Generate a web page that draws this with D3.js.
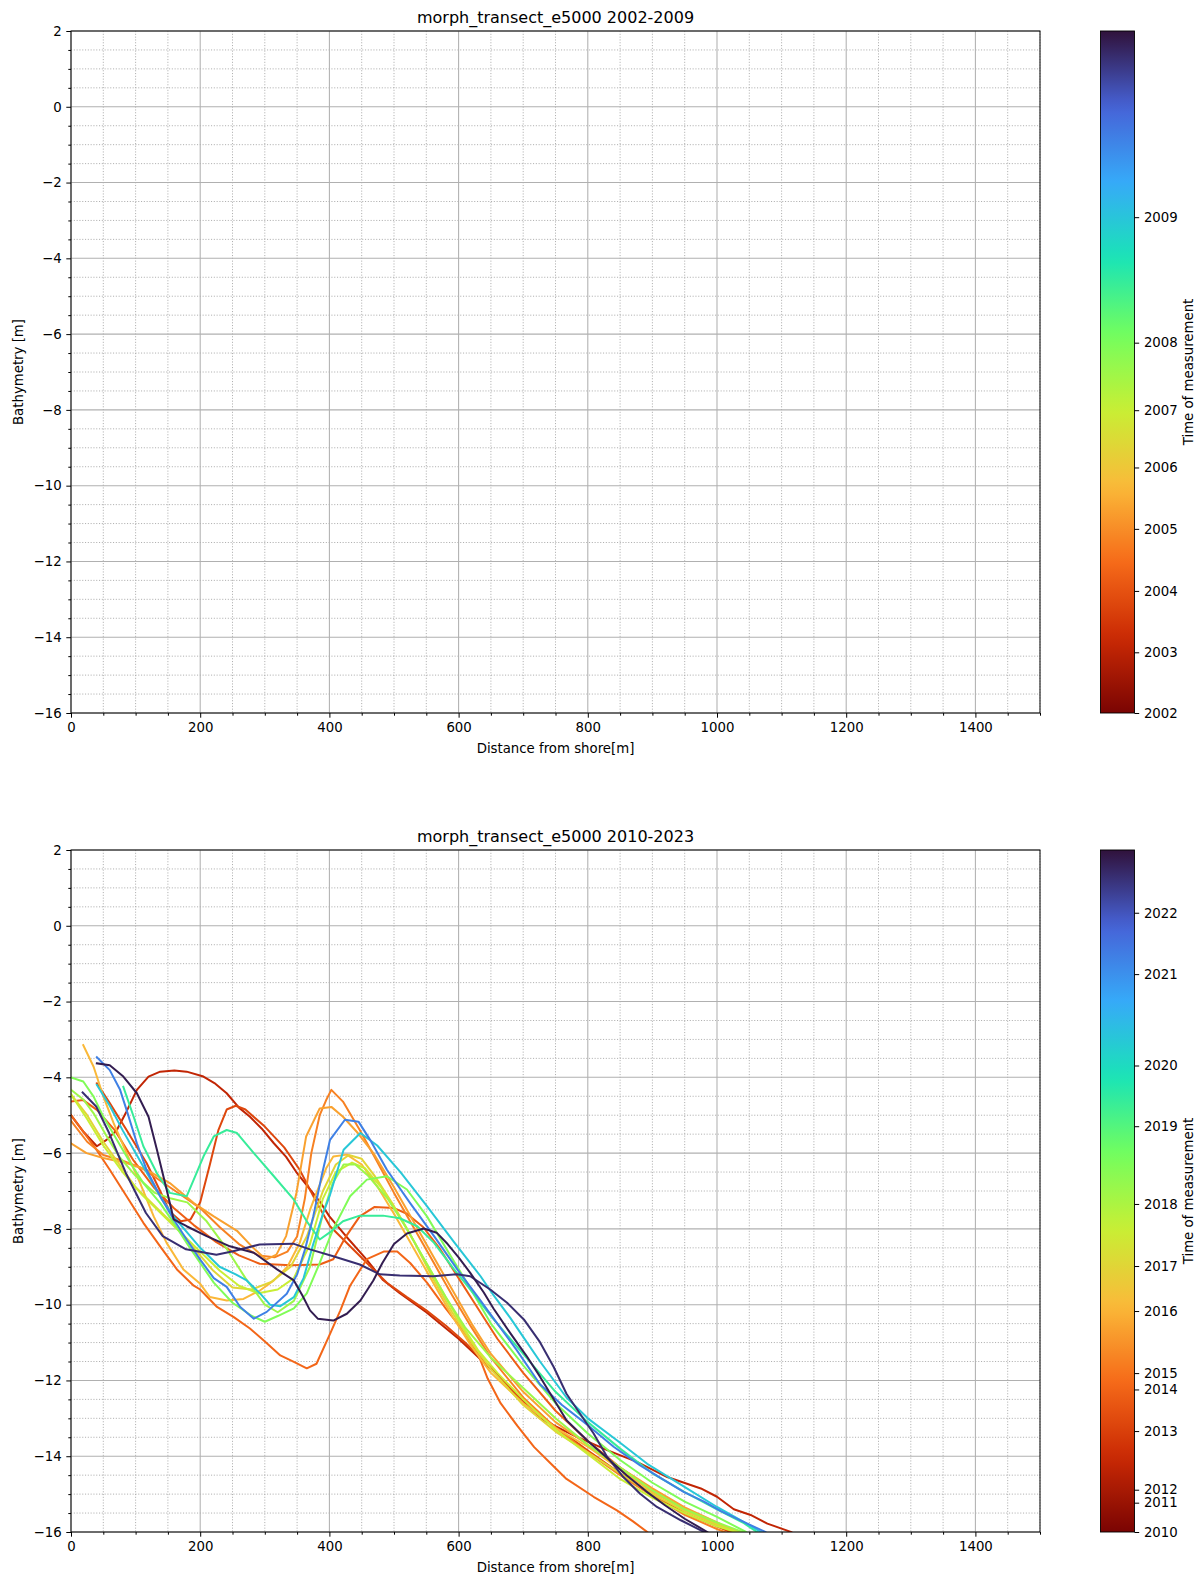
<!DOCTYPE html>
<html>
<head>
<meta charset="utf-8">
<script src="https://cdn.jsdelivr.net/npm/d3@7"></script>
<style>
  body { margin: 0; background: #fff; }
  text { font-family: "DejaVu Sans", sans-serif; fill: #000; }
</style>
</head>
<body>
<script>
// ---- data ----
var xTicks = [0, 200, 400, 600, 800, 1000, 1200, 1400];
var yTicks = [2, 0, -2, -4, -6, -8, -10, -12, -14, -16];
var titles = ['morph_transect_e5000 2002-2009', 'morph_transect_e5000 2010-2023'];

// colorbar ticks (year, position along the bar from bottom 0..1)
var cbarYearsA = [2002, 2003, 2004, 2005, 2006, 2007, 2008, 2009];
var cbarPosA = [0, 0.089, 0.179, 0.27, 0.36, 0.444, 0.543, 0.727];
var cbarEndA = 2010.5;
var cbarYearsB = [2010, 2011, 2012, 2013, 2014, 2015, 2016, 2017, 2018, 2019, 2020, 2021, 2022];
var cbarPosB = [0, 0.043, 0.062, 0.148, 0.209, 0.233, 0.324, 0.39, 0.481, 0.595, 0.684, 0.818, 0.908];
var cbarEndB = 2023.2;

// profiles 2010-2023: [distance from shore (m), bathymetry (m)]
var p2012 = [[0,-5.0],[20,-5.45],[40,-5.82],[55,-5.65],[71,-5.39],[86,-4.9],[102,-4.33],[120,-3.98],[138,-3.85],[160,-3.82],[179,-3.85],[205,-3.98],[222,-4.15],[241,-4.42],[260,-4.8],[277,-5.04],[295,-5.35],[314,-5.74],[333,-6.1],[350,-6.53],[370,-6.96],[386,-7.3],[400,-7.67],[426,-8.2],[457,-8.8],[483,-9.35],[509,-9.7],[550,-10.2],[600,-10.9],[650,-11.7],[700,-12.55],[726,-13.0],[778,-13.45],[830,-13.84],[876,-14.15],[923,-14.55],[975,-14.85],[1000,-15.07],[1026,-15.4],[1052,-15.55],[1078,-15.78],[1115,-16.0]];
var p2013 = [[40,-4.16],[60,-4.68],[86,-5.39],[117,-6.26],[138,-7.0],[153,-7.55],[170,-7.8],[185,-7.75],[200,-7.3],[215,-6.3],[228,-5.4],[241,-4.85],[255,-4.75],[270,-4.85],[300,-5.3],[330,-5.85],[354,-6.44],[380,-7.3],[401,-7.93],[432,-8.46],[458,-8.9],[489,-9.42],[520,-9.8],[550,-10.15],[580,-10.55],[610,-11.0],[640,-11.5],[680,-12.2],[720,-12.85],[760,-13.35],[800,-13.85],[850,-14.45],[900,-15.0],[950,-15.5],[1000,-15.85],[1020,-16.0]];
var p2013b = [[0,-4.64],[19,-4.6],[40,-4.86],[68,-5.4],[97,-6.2],[128,-6.9],[159,-7.45],[190,-7.9],[225,-8.35],[260,-8.7],[292,-8.92],[340,-8.96],[385,-8.94],[406,-8.8],[426,-8.19],[447,-7.67],[470,-7.42],[500,-7.45],[520,-7.6],[545,-7.95],[570,-8.5],[600,-9.3],[630,-10.1],[660,-10.9],[700,-11.8],[750,-12.8],[800,-13.6],[850,-14.3],[900,-14.9],[950,-15.4],[1000,-15.8],[1025,-16.0]];
var p2014 = [[0,-5.0],[35,-5.8],[60,-6.44],[86,-7.14],[112,-7.84],[138,-8.46],[164,-9.07],[190,-9.5],[200,-9.6],[226,-10.06],[252,-10.33],[277,-10.63],[298,-10.94],[324,-11.34],[345,-11.51],[365,-11.68],[380,-11.56],[401,-10.77],[417,-10.15],[432,-9.5],[458,-8.8],[484,-8.6],[505,-8.6],[525,-8.9],[551,-9.42],[580,-10.1],[610,-10.75],[630,-11.3],[645,-11.95],[665,-12.6],[691,-13.2],[717,-13.76],[743,-14.2],[767,-14.6],[809,-15.07],[845,-15.43],[870,-15.72],[892,-16.0]];
var p2015 = [[0,-5.15],[25,-5.7],[50,-6.05],[80,-6.2],[110,-6.4],[140,-6.75],[170,-7.1],[200,-7.45],[230,-7.95],[260,-8.4],[290,-8.7],[315,-8.75],[335,-8.6],[350,-8.2],[362,-7.2],[372,-6.0],[385,-5.0],[395,-4.6],[403,-4.33],[421,-4.64],[447,-5.39],[470,-6.1],[500,-7.05],[530,-7.95],[560,-8.85],[590,-9.75],[620,-10.6],[650,-11.4],[700,-12.45],[750,-13.25],[800,-13.9],[850,-14.5],[900,-15.05],[950,-15.55],[1000,-15.92],[1012,-16.0]];
var p2015b = [[0,-5.74],[24,-6.0],[50,-6.13],[86,-6.26],[117,-6.44],[153,-6.79],[190,-7.32],[221,-7.67],[257,-8.05],[282,-8.5],[302,-8.81],[318,-8.68],[333,-8.19],[349,-7.05],[364,-5.56],[385,-4.82],[403,-4.78],[421,-5.04],[444,-5.47],[468,-6.0],[500,-6.9],[530,-7.8],[560,-8.7],[590,-9.6],[620,-10.5],[650,-11.3],[700,-12.3],[750,-13.1],[800,-13.7],[850,-14.3],[900,-14.85],[950,-15.35],[1000,-15.75],[1030,-16.0]];
var p2016 = [[19,-3.15],[35,-3.72],[50,-4.5],[66,-5.21],[86,-6.0],[107,-6.79],[128,-7.67],[148,-8.37],[174,-9.07],[200,-9.45],[215,-9.8],[241,-9.89],[267,-9.85],[293,-9.62],[314,-9.36],[335,-9.0],[354,-8.37],[370,-7.5],[380,-7.05],[395,-6.4],[406,-6.09],[427,-6.04],[450,-6.3],[475,-6.9],[500,-7.6],[530,-8.5],[560,-9.4],[590,-10.3],[620,-11.1],[650,-11.8],[700,-12.6],[750,-13.25],[800,-13.75],[850,-14.35],[900,-14.95],[950,-15.4],[1000,-15.8],[1035,-16.0]];
var p2017 = [[0,-4.45],[25,-5.0],[50,-5.7],[75,-6.3],[100,-6.9],[130,-7.4],[160,-7.9],[190,-8.5],[220,-9.1],[250,-9.55],[280,-9.6],[310,-9.4],[340,-9.0],[365,-8.2],[390,-7.0],[410,-6.3],[430,-6.05],[450,-6.15],[470,-6.6],[500,-7.4],[530,-8.3],[560,-9.3],[590,-10.2],[620,-11.0],[650,-11.7],[700,-12.65],[750,-13.35],[800,-13.9],[850,-14.45],[900,-15.0],[950,-15.45],[1000,-15.8],[1030,-16.0]];
var p2017b = [[0,-4.45],[25,-5.1],[50,-5.8],[80,-6.5],[110,-7.1],[140,-7.6],[170,-8.1],[200,-8.6],[230,-9.1],[260,-9.5],[290,-9.7],[320,-9.6],[345,-9.3],[370,-8.4],[390,-7.2],[410,-6.5],[435,-6.25],[455,-6.4],[480,-6.9],[510,-7.7],[540,-8.6],[570,-9.5],[600,-10.4],[630,-11.2],[660,-11.8],[700,-12.5],[750,-13.3],[800,-13.95],[850,-14.6],[900,-15.1],[950,-15.5],[1000,-15.85],[1030,-16.0]];
var p2018 = [[0,-4.33],[20,-4.6],[35,-4.95],[55,-5.55],[75,-6.1],[100,-6.6],[130,-7.05],[155,-7.2],[180,-7.3],[210,-7.8],[240,-8.5],[270,-9.3],[300,-10.0],[320,-10.2],[345,-9.9],[370,-9.0],[390,-7.6],[405,-6.8],[422,-6.3],[440,-6.3],[460,-6.6],[490,-7.2],[520,-8.0],[550,-8.9],[580,-9.8],[610,-10.6],[650,-11.4],[700,-12.2],[750,-13.0],[800,-13.7],[850,-14.3],[900,-14.9],[950,-15.4],[1000,-15.75],[1040,-16.0]];
var p2018b = [[0,-4.0],[19,-4.11],[35,-4.51],[50,-5.04],[71,-5.65],[92,-6.26],[112,-6.79],[138,-7.32],[159,-7.84],[179,-8.37],[200,-8.9],[221,-9.42],[250,-9.95],[280,-10.3],[300,-10.45],[320,-10.3],[345,-10.1],[365,-9.7],[385,-8.9],[406,-8.0],[432,-7.14],[458,-6.7],[489,-6.61],[520,-6.96],[551,-7.67],[588,-8.72],[613,-9.42],[650,-10.5],[700,-11.6],[750,-12.6],[800,-13.4],[850,-14.1],[900,-14.7],[950,-15.2],[1000,-15.6],[1045,-16.0]];
var p2019 = [[81,-4.25],[97,-5.04],[112,-5.82],[133,-6.53],[153,-7.05],[179,-7.14],[190,-6.7],[205,-6.09],[221,-5.56],[241,-5.39],[257,-5.47],[283,-6.0],[314,-6.61],[345,-7.23],[365,-7.8],[385,-8.28],[400,-8.1],[421,-7.8],[447,-7.65],[483,-7.65],[509,-7.72],[536,-7.93],[562,-8.37],[593,-9.07],[614,-9.51],[650,-10.3],[700,-11.3],[750,-12.3],[800,-13.1],[850,-13.8],[900,-14.45],[950,-14.95],[1000,-15.4],[1040,-15.75],[1062,-16.0]];
var p2020 = [[40,-4.2],[60,-4.75],[80,-5.4],[100,-6.0],[120,-6.6],[140,-7.2],[160,-7.7],[180,-8.1],[200,-8.5],[230,-9.0],[255,-9.2],[272,-9.36],[293,-9.71],[308,-10.0],[324,-10.04],[345,-9.8],[360,-9.3],[375,-8.4],[390,-7.6],[401,-7.1],[422,-5.91],[448,-5.47],[474,-5.8],[510,-6.5],[551,-7.4],[593,-8.35],[634,-9.25],[654,-9.75],[680,-10.35],[700,-10.85],[726,-11.5],[767,-12.45],[800,-13.0],[845,-13.58],[892,-14.2],[949,-14.8],[1000,-15.34],[1037,-15.69],[1068,-16.0]];
var p2021 = [[40,-3.47],[60,-3.81],[76,-4.33],[86,-4.86],[102,-5.74],[117,-6.44],[138,-7.14],[159,-7.75],[179,-8.28],[200,-8.81],[221,-9.3],[241,-9.53],[262,-10.06],[283,-10.37],[303,-10.19],[334,-9.71],[350,-9.2],[363,-8.5],[375,-7.67],[388,-6.6],[401,-5.65],[424,-5.12],[445,-5.17],[463,-5.65],[489,-6.44],[525,-7.32],[562,-8.19],[598,-9.07],[630,-9.8],[660,-10.5],[690,-11.2],[726,-12.1],[760,-12.65],[800,-13.18],[840,-13.75],[881,-14.24],[915,-14.6],[949,-14.95],[980,-15.2],[1006,-15.45],[1047,-15.78],[1075,-16.0]];
var p2022a = [[18,-4.4],[39,-4.77],[59,-5.47],[85,-6.53],[116,-7.58],[142,-8.19],[178,-8.54],[225,-8.68],[251,-8.59],[292,-8.41],[344,-8.39],[370,-8.54],[406,-8.72],[447,-8.94],[478,-9.2],[509,-9.23],[561,-9.25],[597,-9.2],[618,-9.25],[649,-9.6],[675,-9.95],[701,-10.39],[726,-10.99],[747,-11.64],[767,-12.35],[788,-12.88],[809,-13.4],[830,-14.02],[855,-14.55],[881,-14.99],[907,-15.34],[944,-15.69],[980,-16.0]];
var p2022b = [[40,-3.63],[60,-3.68],[81,-3.98],[102,-4.42],[120,-5.04],[133,-5.91],[148,-6.96],[159,-7.75],[179,-7.93],[210,-8.19],[246,-8.46],[283,-8.63],[319,-9.07],[345,-9.36],[358,-9.75],[370,-10.15],[382,-10.37],[406,-10.42],[427,-10.24],[448,-9.89],[468,-9.36],[482,-8.9],[500,-8.4],[520,-8.12],[546,-7.99],[566,-8.1],[583,-8.4],[600,-8.75],[618,-9.16],[639,-9.68],[654,-10.1],[680,-10.75],[705,-11.35],[726,-11.9],[767,-13.05],[800,-13.6],[830,-14.05],[860,-14.5],[890,-14.92],[920,-15.3],[950,-15.65],[985,-16.0]];

var profileDates = [2012.41, 2013.2, 2013.85, 2014.23, 2015.22, 2015.72, 2016.1, 2017.0, 2017.58, 2018.17, 2018.5, 2019.4, 2020.28, 2021.28, 2022.7, 2023.0];
var profileList = [p2012, p2013, p2013b, p2014, p2015, p2015b, p2016, p2017, p2017b, p2018, p2018b, p2019, p2020, p2021, p2022a, p2022b];

// ---- drawing ----
var W = 1200, H = 1575;
var svg = d3.select('body').append('svg').attr('width', W).attr('height', H);

// turbo colormap stops (dark purple -> dark red)
var turboStops = ['#30123b', '#4662d7', '#36aaf9', '#1ae4b6', '#72fe5e', '#c8ef34', '#faba39', '#f66b19', '#cb2a04', '#7a0403'];
var turbo = d3.piecewise(d3.interpolateRgb, turboStops);

var left = 71, right = 1040, plotH = 682;
var cbLeft = 1100.5, cbW = 34;
var majorTick = 4.7, minorTick = 2.7, tickPad = 4.7;

function drawPanel(top, title, years, pos, yearEnd, dates, profiles, id) {
    var bottom = top + plotH;
    var x = d3.scaleLinear().domain([0, 1500]).range([left, right]);
    var y = d3.scaleLinear().domain([-16, 2]).range([bottom, top]);
    var g = svg.append('g');

    // minor grid (dotted)
    var xMinor = d3.range(0, 1501, 50).filter(function (d) { return d % 200 !== 0; });
    var yMinor = d3.range(-16, 2.01, 0.5).filter(function (d) { return Math.abs(d % 2) > 0.01; });
    var grid = g.append('g').attr('stroke', '#a8a8a8').attr('stroke-width', 0.9).attr('stroke-dasharray', '1.1,1.7');
    grid.selectAll('.vx').data(xMinor).enter().append('line')
        .attr('x1', function (d) { return x(d); }).attr('x2', function (d) { return x(d); })
        .attr('y1', top).attr('y2', bottom);
    grid.selectAll('.hy').data(yMinor).enter().append('line')
        .attr('y1', function (d) { return y(d); }).attr('y2', function (d) { return y(d); })
        .attr('x1', left).attr('x2', right);

    // major grid (solid)
    var major = g.append('g').attr('stroke', '#b0b0b0').attr('stroke-width', 1.05);
    major.selectAll('.vx').data(d3.range(0, 1501, 200)).enter().append('line')
        .attr('x1', function (d) { return x(d); }).attr('x2', function (d) { return x(d); })
        .attr('y1', top).attr('y2', bottom);
    major.selectAll('.hy').data(yTicks).enter().append('line')
        .attr('y1', function (d) { return y(d); }).attr('y2', function (d) { return y(d); })
        .attr('x1', left).attr('x2', right);

    // colour scale: date -> position on colorbar -> turbo
    var datePos = d3.scaleLinear().domain(years.concat([yearEnd])).range(pos.concat([1])).clamp(true);
    var colorOf = function (date) { return turbo(1 - datePos(date)); };

    // profiles
    svg.append('clipPath').attr('id', 'clip' + id).append('rect')
        .attr('x', left).attr('y', top).attr('width', right - left).attr('height', plotH);
    var line = d3.line().x(function (d) { return x(d[0]); }).y(function (d) { return y(d[1]); });
    var lines = g.append('g').attr('clip-path', 'url(#clip' + id + ')');
    profiles.forEach(function (p, i) {
        lines.append('path').datum(p)
            .attr('d', line)
            .attr('fill', 'none')
            .attr('stroke', colorOf(dates[i]))
            .attr('stroke-width', 2)
            .attr('stroke-linejoin', 'round')
            .attr('stroke-linecap', 'square');
    });

    // axes (ticks + labels)
    var fmt = d3.format('d');
    g.append('g').attr('transform', 'translate(0,' + bottom + ')')
        .call(d3.axisBottom(x).tickValues(xTicks).tickFormat(fmt).tickSize(majorTick).tickPadding(tickPad).tickSizeOuter(0));
    g.append('g').attr('transform', 'translate(0,' + bottom + ')')
        .call(d3.axisBottom(x).tickValues(xMinor).tickFormat('').tickSize(minorTick).tickSizeOuter(0));
    g.append('g').attr('transform', 'translate(' + left + ',0)')
        .call(d3.axisLeft(y).tickValues(yTicks).tickFormat(fmt).tickSize(majorTick).tickPadding(tickPad).tickSizeOuter(0));
    g.append('g').attr('transform', 'translate(' + left + ',0)')
        .call(d3.axisLeft(y).tickValues(yMinor).tickFormat('').tickSize(minorTick).tickSizeOuter(0));
    g.selectAll('.domain').remove();
    g.selectAll('.tick line').attr('stroke', '#000').attr('stroke-width', 1);
    g.selectAll('.tick text').attr('font-size', '13.3px').attr('font-family', '"DejaVu Sans", sans-serif').attr('fill', '#000');

    // spines
    g.append('rect').attr('x', left).attr('y', top).attr('width', right - left).attr('height', plotH)
        .attr('fill', 'none').attr('stroke', '#000').attr('stroke-width', 1);

    // titles and labels
    g.append('text').attr('x', (left + right) / 2).attr('y', top - 8)
        .attr('text-anchor', 'middle').attr('font-size', '16px').text(title);
    g.append('text').attr('x', (left + right) / 2).attr('y', bottom + 40)
        .attr('text-anchor', 'middle').attr('font-size', '13.3px').text('Distance from shore[m]');
    g.append('text').attr('transform', 'translate(23,' + (top + plotH / 2) + ') rotate(-90)')
        .attr('text-anchor', 'middle').attr('font-size', '13.3px').text('Bathymetry [m]');

    // colorbar
    var grad = svg.append('defs').append('linearGradient').attr('id', 'grad' + id)
        .attr('x1', 0).attr('y1', 1).attr('x2', 0).attr('y2', 0);
    d3.range(0, 1.0001, 0.02).forEach(function (f) {
        grad.append('stop').attr('offset', f).attr('stop-color', turbo(1 - f));
    });
    g.append('rect').attr('x', cbLeft).attr('y', top).attr('width', cbW).attr('height', plotH)
        .attr('fill', 'url(#grad' + id + ')').attr('stroke', '#000').attr('stroke-width', 0.9);
    var cbScale = d3.scaleLinear().domain(years).range(pos.map(function (p) { return bottom - p * plotH; }));
    var cbAxis = g.append('g').attr('transform', 'translate(' + (cbLeft + cbW) + ',0)')
        .call(d3.axisRight(cbScale).tickValues(years).tickFormat(fmt).tickSize(majorTick).tickPadding(tickPad).tickSizeOuter(0));
    cbAxis.select('.domain').remove();
    cbAxis.selectAll('.tick line').attr('stroke', '#000').attr('stroke-width', 1);
    cbAxis.selectAll('.tick text').attr('font-size', '13.3px').attr('font-family', '"DejaVu Sans", sans-serif').attr('fill', '#000');
    g.append('text').attr('transform', 'translate(1193,' + (top + plotH / 2) + ') rotate(-90)')
        .attr('text-anchor', 'middle').attr('font-size', '13.3px').text('Time of measurement');
}

drawPanel(31, titles[0], cbarYearsA, cbarPosA, cbarEndA, [], [], 'a');
drawPanel(850, titles[1], cbarYearsB, cbarPosB, cbarEndB, profileDates, profileList, 'b');
</script>
</body>
</html>
